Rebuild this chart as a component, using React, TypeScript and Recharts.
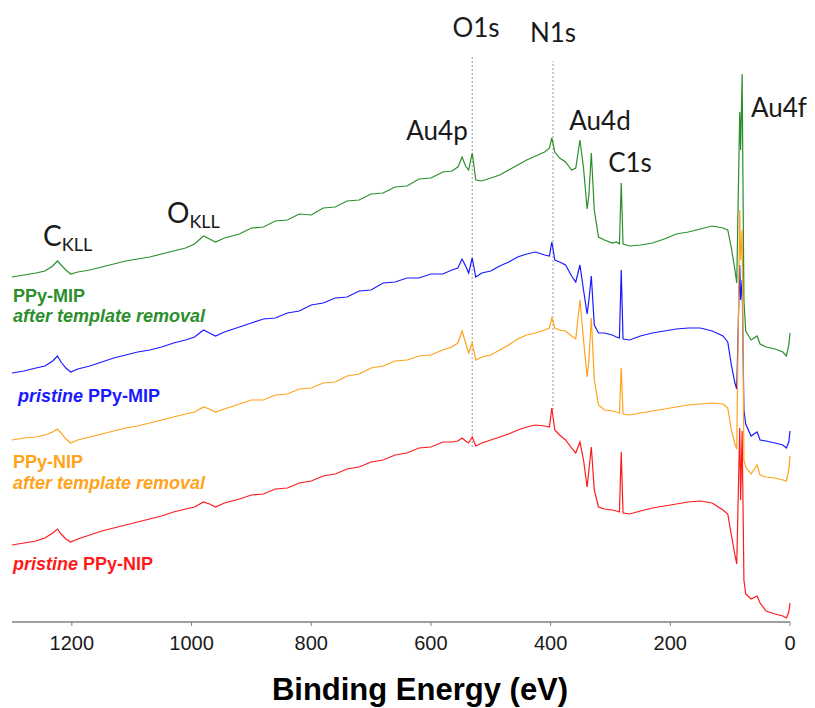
import React from 'react';
import { Line, LineChart, ReferenceLine, XAxis, YAxis } from 'recharts';

// binding energy grid (eV), shared by all four survey spectra
const bindingEnergy = [
    1300, 1280, 1260, 1245, 1232, 1224, 1218, 1210, 1202,
    1190, 1170, 1150, 1130, 1110, 1090, 1070, 1050, 1030, 1010,
    995, 980, 970, 960, 945,
    920, 900, 880, 860, 840, 820, 800, 780, 760, 740, 720, 700, 680, 660, 640, 620, 600, 580,
    565, 555, 548, 542, 537, 531, 525, 515,
    500, 485, 470, 455, 440, 425, 410,
    402, 398, 393, 385, 375, 365, 358,
    351, 345, 339, 336, 332, 327, 320, 310,
    297, 290, 285, 282, 279, 268,
    250, 230, 210, 190, 170, 150, 130, 112,
    104, 98, 92, 89, 84, 82.5, 80, 77, 74,
    65, 55, 50, 40, 25, 12, 6, 2, 0,
];

// intensities (a.u., spectra stacked with offsets)
const mipAfterRemoval = [
    345, 347, 349, 351, 356, 361, 357, 352, 348,
    350, 352, 355, 358, 361, 363, 365, 368, 371, 374,
    378, 386, 383, 380, 384,
    388, 394, 395, 401, 402, 408, 407, 414, 415, 421, 422, 428, 429, 435, 436, 443, 444, 450,
    451, 455, 465, 456, 452, 469, 442, 441,
    444, 447, 452, 457, 462, 466, 470,
    474, 484, 470, 464, 460, 452, 454,
    482, 454, 413, 427, 469, 412, 385, 382,
    379, 380, 378, 439, 378, 376,
    377, 379, 383, 388, 390, 393, 396, 394,
    392, 374, 352, 339, 510, 472, 548, 322, 291,
    282, 286, 278, 275, 273, 270, 266, 277, 289,
];

const mipPristine = [
    249, 251, 254, 256, 261, 266, 260, 254, 250,
    253, 256, 260, 264, 267, 270, 272, 275, 279, 282,
    285, 292, 289, 286, 290,
    295, 299, 303, 304, 309, 311, 317, 319, 324, 325, 331, 332, 339, 340, 344, 344, 348, 348,
    352, 354, 363, 356, 349, 364, 345, 349,
    351, 356, 360, 365, 368, 370, 367,
    366, 380, 362, 360, 357, 346, 340,
    357, 332, 308, 322, 346, 297, 289, 289,
    287, 285, 284, 352, 283, 282,
    286, 289, 291, 293, 294, 294, 291, 286,
    280, 257, 239, 233, 357, 322, 342, 212, 198,
    186, 190, 182, 181, 179, 177, 174, 180, 191,
];

const nipAfterRemoval = [
    182, 184, 185, 187, 190, 193, 189, 183, 179,
    182, 185, 188, 191, 194, 196, 199, 202, 205, 208,
    210, 215, 213, 210, 213,
    218, 222, 222, 227, 228, 233, 234, 239, 240, 246, 248, 254, 256, 261, 262, 266, 267, 272,
    275, 279, 291, 279, 269, 279, 262, 265,
    267, 272, 277, 283, 287, 289, 292,
    294, 304, 294, 292, 291, 286, 283,
    322, 282, 245, 262, 304, 242, 217, 212,
    211, 210, 209, 254, 208, 207,
    209, 211, 213, 215, 217, 218, 219, 218,
    214, 192, 178, 173, 412, 362, 392, 162, 155,
    148, 157, 147, 145, 144, 142, 141, 152, 166,
];

const nipPristine = [
    77, 79, 81, 84, 89, 93, 88, 83, 80,
    83, 87, 91, 94, 97, 100, 103, 106, 110, 113,
    115, 120, 118, 115, 119,
    123, 127, 128, 133, 134, 139, 141, 146, 148, 153, 155, 160, 162, 167, 169, 174, 175, 180,
    180, 181, 184, 181, 179, 185, 176, 179,
    182, 185, 188, 192, 195, 197, 196,
    195, 214, 192, 187, 182, 174, 169,
    180, 162, 135, 152, 175, 132, 115, 113,
    112, 111, 110, 170, 109, 108,
    111, 114, 116, 118, 120, 121, 119, 112,
    108, 87, 67, 58, 194, 122, 191, 42, 28,
    23, 26, 19, 11, 8, 6, 4, 10, 19,
];

const energyTicks = [0, 200, 400, 600, 800, 1000, 1200];

// dotted guide lines at O1s / N1s
const guideLines = [
    { energy: 531, from: 175, to: 565 },
    { energy: 396, from: 212, to: 561 },
];

const GREEN = '#2b8f2b';
const BLUE = '#1a1aff';
const ORANGE = '#ffa31a';
const RED = '#ff1a1a';

const rows = bindingEnergy.map((be, i) => ({
    be,
    mipAfter: mipAfterRemoval[i],
    mipPristine: mipPristine[i],
    nipAfter: nipAfterRemoval[i],
    nipPristine: nipPristine[i],
}));

const peakFont = { fontFamily: 'Lato, "Open Sans", sans-serif', fill: '#1a1a1a' };
const sampleFont = { fontFamily: '"Liberation Sans", Arial, sans-serif', fontWeight: 700, fontSize: 18 };

export default function App() {
    return (
        <div style={{ position: 'absolute', left: 0, top: 0 }}>
            <LineChart width={815} height={708} data={rows} margin={{ top: 10, right: 25, bottom: 0, left: 12 }}>
                <XAxis
                    dataKey="be"
                    type="number"
                    domain={[0, 1300]}
                    reversed
                    ticks={energyTicks}
                    height={86}
                    tickSize={4}
                    tickMargin={10}
                    axisLine={{ stroke: '#808080', strokeWidth: 1.5 }}
                    tickLine={{ stroke: '#808080' }}
                    tick={{ fontSize: 20, fill: '#1a1a1a', fontFamily: '"Liberation Sans", Arial, sans-serif' }}
                />
                <YAxis hide type="number" domain={[0, 612]} />
                {guideLines.map(g => (
                    <ReferenceLine
                        key={g.energy}
                        segment={[{ x: g.energy, y: g.from }, { x: g.energy, y: g.to }]}
                        stroke="#9a9a9a"
                        strokeDasharray="2 2"
                    />
                ))}
                <Line dataKey="mipAfter" type="linear" stroke={GREEN} strokeWidth={1.2} dot={false} isAnimationActive={false} />
                <Line dataKey="mipPristine" type="linear" stroke={BLUE} strokeWidth={1.2} dot={false} isAnimationActive={false} />
                <Line dataKey="nipAfter" type="linear" stroke={ORANGE} strokeWidth={1.2} dot={false} isAnimationActive={false} />
                <Line dataKey="nipPristine" type="linear" stroke={RED} strokeWidth={1.2} dot={false} isAnimationActive={false} />

                {/* peak annotations */}
                <g style={peakFont} fontSize={26} textAnchor="middle">
                    <text x={476} y={37}>O1s</text>
                    <text x={553} y={42}>N1s</text>
                    <text x={437} y={140}>Au4p</text>
                    <text x={600} y={130}>Au4d</text>
                    <text x={630} y={172}>C1s</text>
                    <text x={779} y={117}>Au4f</text>
                </g>
                <text x={43} y={246} style={peakFont} fontSize={28}>
                    C<tspan fontSize={18} dy={5}>KLL</tspan>
                </text>
                <text x={167} y={223} style={peakFont} fontSize={28}>
                    O<tspan fontSize={18} dy={5}>KLL</tspan>
                </text>

                {/* sample labels */}
                <g style={sampleFont}>
                    <text x={13} y={302} fill={GREEN}>PPy-MIP</text>
                    <text x={13} y={322} fill={GREEN} fontStyle="italic">after template removal</text>
                    <text x={18} y={402} fill={BLUE}>
                        <tspan fontStyle="italic">pristine</tspan> PPy-MIP
                    </text>
                    <text x={13} y={468} fill={ORANGE}>PPy-NIP</text>
                    <text x={13} y={489} fill={ORANGE} fontStyle="italic">after template removal</text>
                    <text x={13} y={570} fill={RED}>
                        <tspan fontStyle="italic">pristine</tspan> PPy-NIP
                    </text>
                </g>

                <text x={420} y={700} textAnchor="middle" fontSize={31} fontWeight={700}
                      fontFamily='"Liberation Sans", Arial, sans-serif' fill="#000">
                    Binding Energy (eV)
                </text>
            </LineChart>
        </div>
    );
}
